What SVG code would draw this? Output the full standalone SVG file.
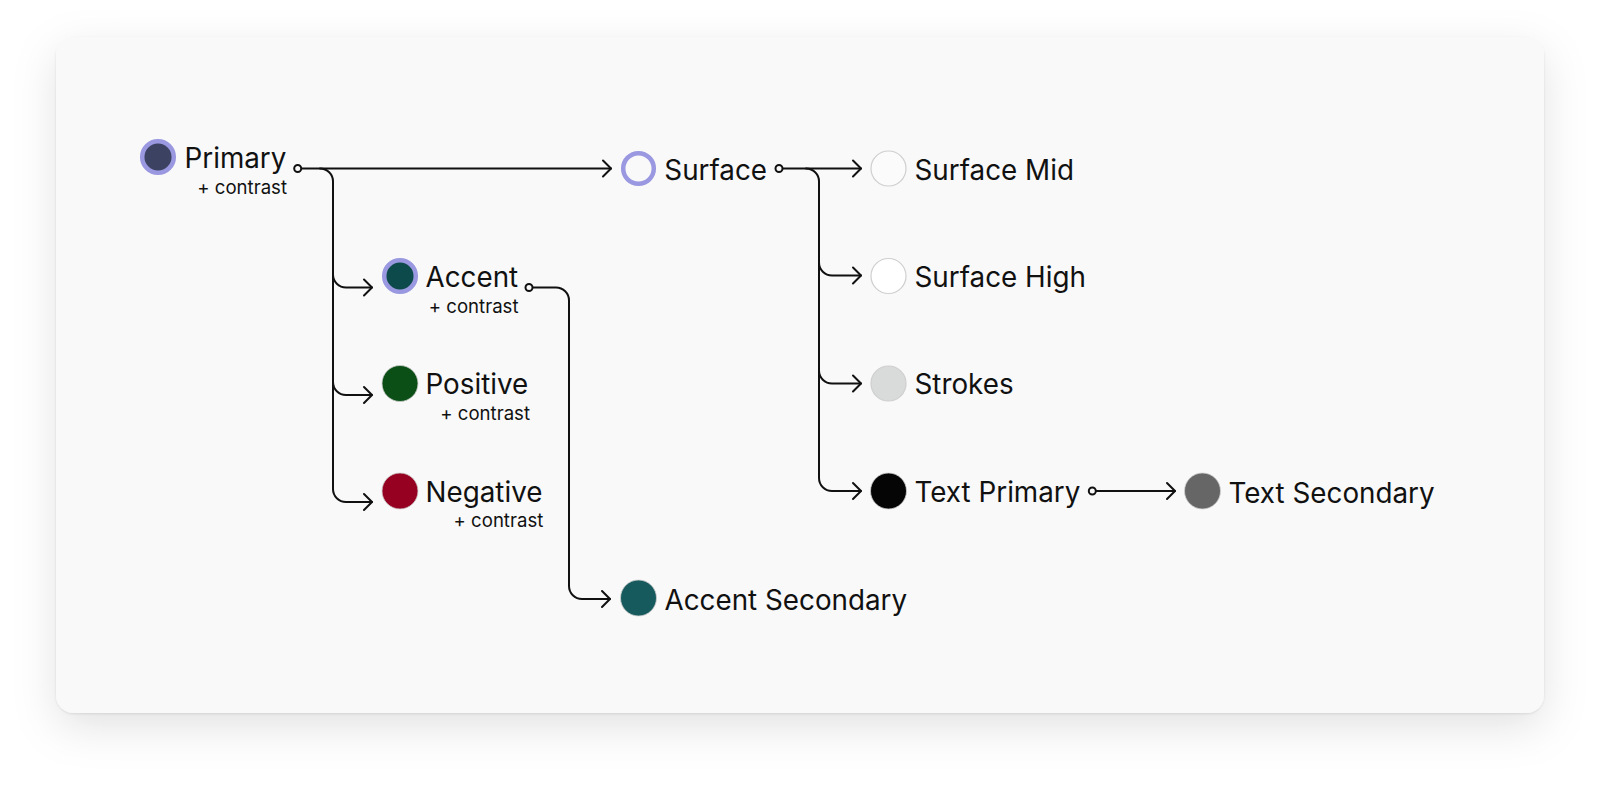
<svg xmlns="http://www.w3.org/2000/svg" width="1600" height="788" viewBox="0 0 1600 788">
<defs>
<filter id="sh" x="-10%" y="-15%" width="120%" height="135%">
<feDropShadow dx="0" dy="14" stdDeviation="22" flood-color="#000" flood-opacity="0.11"/>
<feDropShadow dx="0" dy="1" stdDeviation="1" flood-color="#000" flood-opacity="0.1"/>
</filter>
<marker id="arr" viewBox="-10 -10 12 20" refX="0" refY="0" markerWidth="12" markerHeight="20" markerUnits="userSpaceOnUse" orient="auto">
<path d="M-8,-8 L0,0 L-8,8" fill="none" stroke="#111" stroke-width="2" stroke-linecap="round" stroke-linejoin="round"/>
</marker>
<style>
.lbl{font-family:Inter,"Noto Sans","Liberation Sans",sans-serif;font-size:27.8px;fill:#111}
.sub{font-family:Inter,"Noto Sans","Liberation Sans",sans-serif;font-size:18.6px;fill:#111;text-anchor:end}
.c{fill:none;stroke:#111;stroke-width:2;stroke-linecap:round}
.port{fill:#fafafa;stroke:#111;stroke-width:2}
.ring{stroke:#9a98e0;stroke-width:4.5}
.light{stroke:#cfcfcf;stroke-width:1.2}
</style>
</defs>
<rect x="0" y="0" width="1600" height="788" fill="#ffffff"/>
<rect x="56" y="37" width="1488" height="676" rx="18" fill="#f9f9f9" filter="url(#sh)"/>

<g id="connectors">
<path class="c" d="M301.5,168.5 H611" marker-end="url(#arr)"/>
<path class="c" d="M320,168.5 A13,13 0 0 1 333,181.5 V489 A13,13 0 0 0 346,502 H372" marker-end="url(#arr)"/>
<path class="c" d="M333,274.5 A13,13 0 0 0 346,287.5 H372" marker-end="url(#arr)"/>
<path class="c" d="M333,382 A13,13 0 0 0 346,395 H372" marker-end="url(#arr)"/>
<path class="c" d="M532.5,287.5 H556 A13,13 0 0 1 569,300.5 V586 A13,13 0 0 0 582,599 H610" marker-end="url(#arr)"/>
<path class="c" d="M782.5,168.5 H861" marker-end="url(#arr)"/>
<path class="c" d="M806,168.5 A13,13 0 0 1 819,181.5 V478 A13,13 0 0 0 832,491 H861" marker-end="url(#arr)"/>
<path class="c" d="M819,262.5 A13,13 0 0 0 832,275.5 H861" marker-end="url(#arr)"/>
<path class="c" d="M819,370.5 A13,13 0 0 0 832,383.5 H861" marker-end="url(#arr)"/>
<path class="c" d="M1096,491 H1175" marker-end="url(#arr)"/>
<circle class="port" cx="297.7" cy="168.5" r="3.5"/>
<circle class="port" cx="529" cy="287.5" r="3.5"/>
<circle class="port" cx="779" cy="168.5" r="3.5"/>
<circle class="port" cx="1092.3" cy="491" r="3.5"/>
</g>

<g id="primary">
<circle class="ring" cx="158" cy="157" r="15.8" fill="#3b4262"/>
<text class="lbl" x="184.5" y="168.3">Primary</text>
<text class="sub" x="287" y="193.5">+ contrast</text>
</g>
<g id="accent">
<circle class="ring" cx="400" cy="276" r="15.8" fill="#0d4a4b"/>
<text class="lbl" x="425.5" y="286.7">Accent</text>
<text class="sub" x="518.5" y="312.7">+ contrast</text>
</g>
<g id="positive">
<circle cx="400" cy="383.5" r="18" fill="#0b4f16" stroke="#cfcfcf" stroke-width="0.8"/>
<text class="lbl" x="425.5" y="394.3">Positive</text>
<text class="sub" x="530" y="420">+ contrast</text>
</g>
<g id="negative">
<circle cx="400" cy="491" r="18" fill="#960021" stroke="#cfcfcf" stroke-width="0.8"/>
<text class="lbl" x="425.5" y="501.5">Negative</text>
<text class="sub" x="543.3" y="527.3">+ contrast</text>
</g>
<g id="surface">
<circle class="ring" cx="638.5" cy="168.5" r="15.3" fill="#f9f9f9"/>
<text class="lbl" x="664.3" y="180">Surface</text>
</g>
<g id="accent-secondary">
<circle cx="638.5" cy="598" r="18" fill="#175a5e" stroke="#cfcfcf" stroke-width="0.8"/>
<text class="lbl" x="664.5" y="609.5">Accent Secondary</text>
</g>
<g id="surface-mid">
<circle class="light" cx="888.5" cy="168.5" r="17.5" fill="#fbfbfb"/>
<text class="lbl" x="914.5" y="180">Surface Mid</text>
</g>
<g id="surface-high">
<circle class="light" cx="888.5" cy="276" r="17.5" fill="#ffffff"/>
<text class="lbl" x="914.5" y="287">Surface High</text>
</g>
<g id="strokes">
<circle class="light" cx="888.5" cy="383.5" r="17.5" fill="#d9dada"/>
<text class="lbl" x="914.5" y="394.3">Strokes</text>
</g>
<g id="text-primary">
<circle cx="888.5" cy="491" r="18" fill="#050505" stroke="#cfcfcf" stroke-width="0.8"/>
<text class="lbl" x="914.5" y="502.3">Text Primary</text>
</g>
<g id="text-secondary">
<circle cx="1202.5" cy="491" r="18" fill="#666666" stroke="#cfcfcf" stroke-width="0.8"/>
<text class="lbl" x="1228.5" y="502.5">Text Secondary</text>
</g>
</svg>
